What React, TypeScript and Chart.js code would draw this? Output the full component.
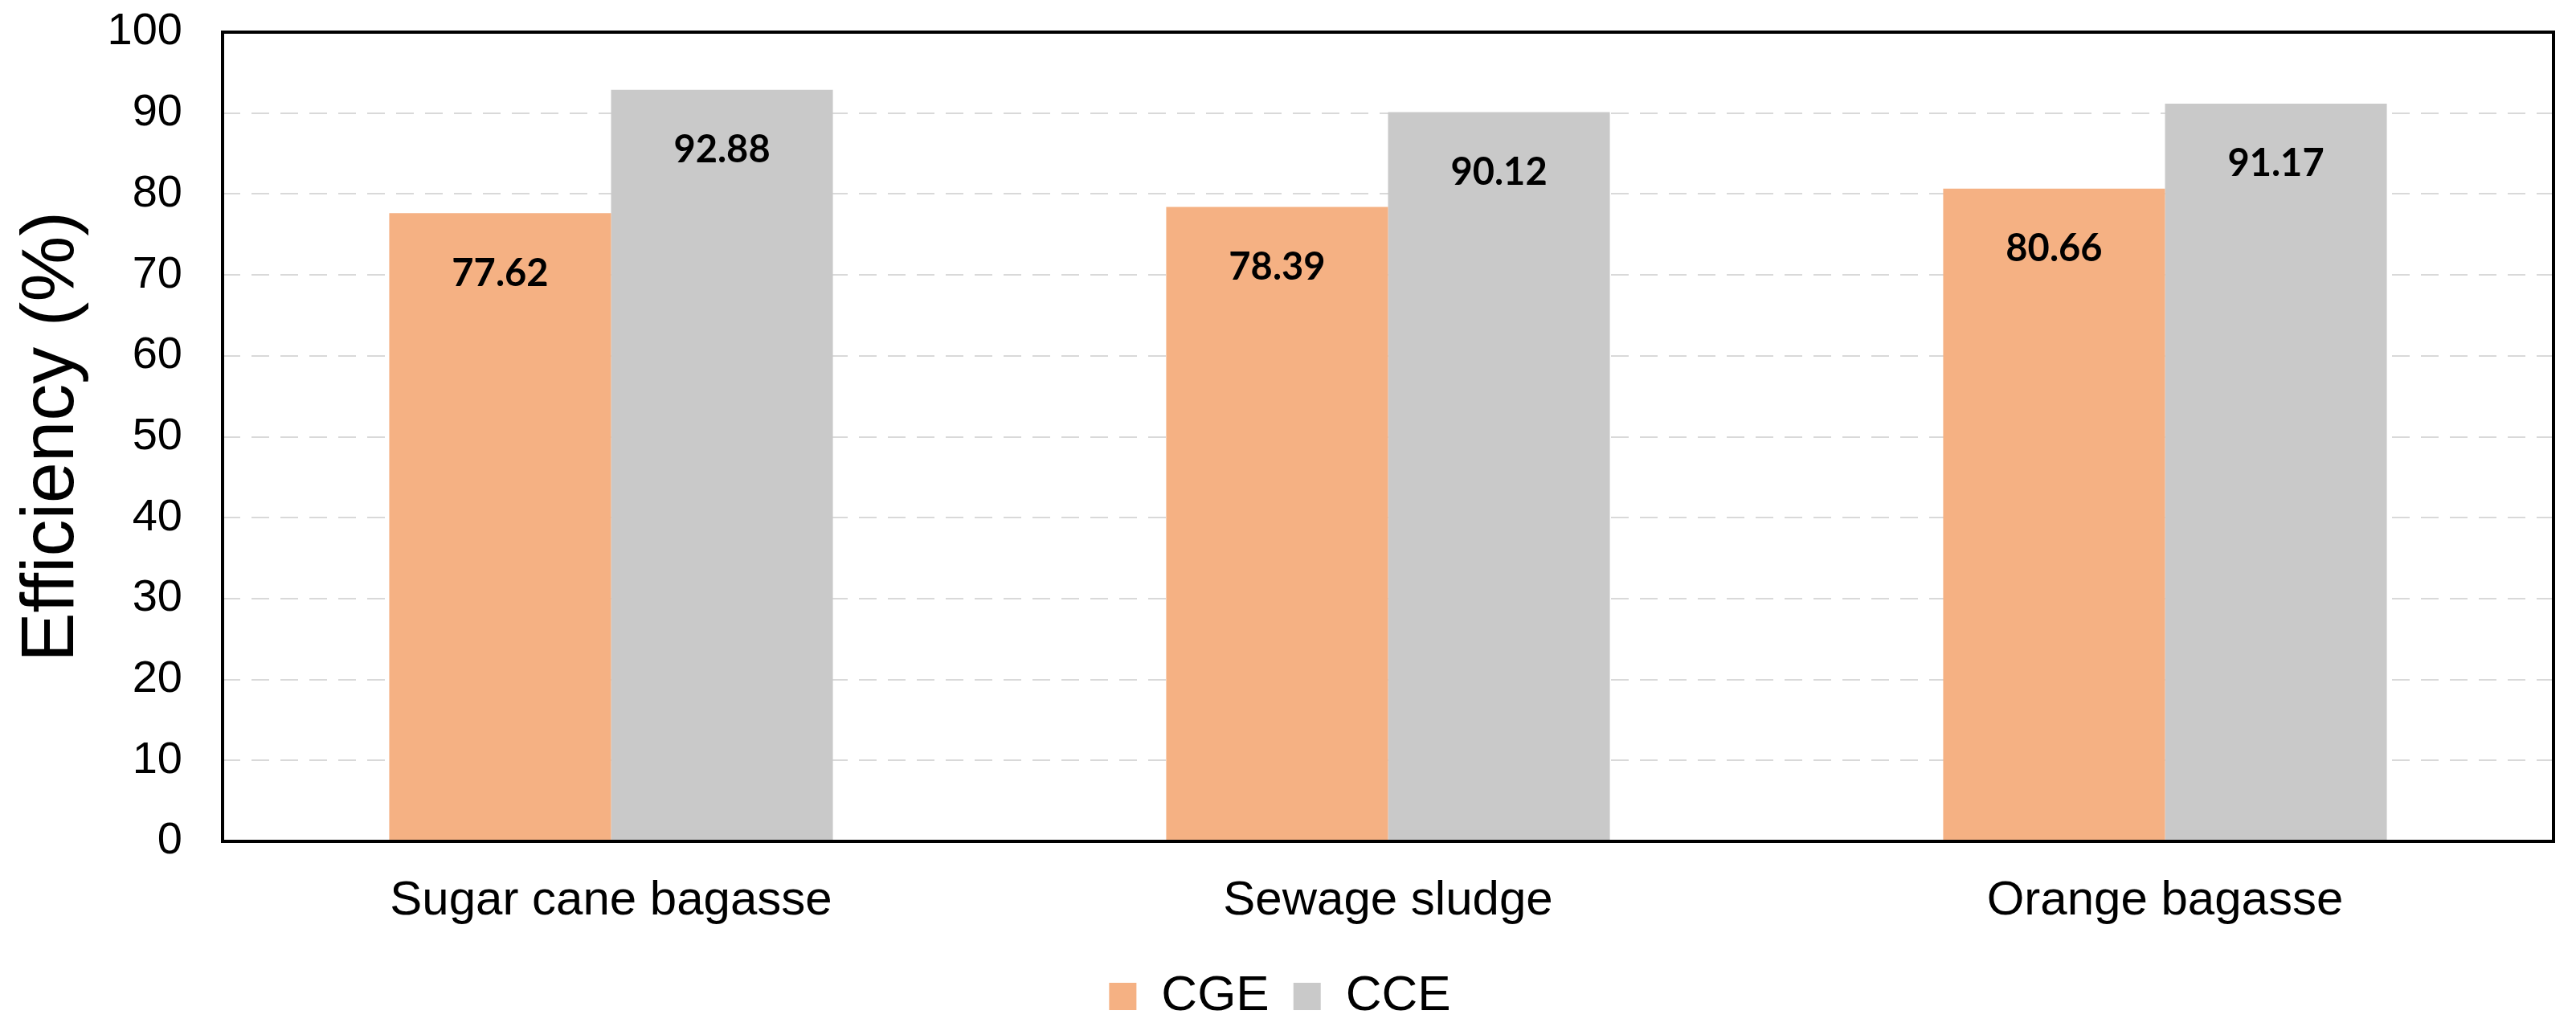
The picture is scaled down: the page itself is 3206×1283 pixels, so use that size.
import React, { useEffect, useRef } from "react";
import { Chart, registerables } from "chart.js";

Chart.register(...registerables);

const categories = ["Sugar cane bagasse", "Sewage sludge", "Orange bagasse"];
const cgeValues = [77.62, 78.39, 80.66];
const cceValues = [92.88, 90.12, 91.17];
const seriesNames = ["CGE", "CCE"];
const seriesColors = ["#F5B183", "#C9C9C9"];
const yAxisTitle = "Efficiency (%)";
const yMin = 0;
const yMax = 100;
const yStep = 10;

const FONT = "'Liberation Sans', Arial, Helvetica, sans-serif";

const valueLabels = {
  id: "valueLabels",
  afterDatasetsDraw(chart: any) {
    const ctx = chart.ctx;
    ctx.save();
    ctx.font = "bold 47px Lato, 'Liberation Sans', sans-serif";
    ctx.fillStyle = "#000";
    ctx.textAlign = "center";
    ctx.textBaseline = "middle";
    chart.data.datasets.forEach((ds: any, i: number) => {
      const meta = chart.getDatasetMeta(i);
      meta.data.forEach((el: any, j: number) => {
        const v = ds.data[j] as number;
        ctx.fillText(v.toFixed(2), el.x, el.y + 75);
      });
    });
    ctx.restore();
  },
};

const frame = {
  id: "frame",
  afterDatasetsDraw(chart: any) {
    const { left, top, right, bottom } = chart.chartArea;
    const ctx = chart.ctx;
    ctx.save();
    ctx.strokeStyle = "#000";
    ctx.lineWidth = 4;
    ctx.strokeRect(left, top, right - left, bottom - top);
    ctx.restore();
  },
};

export default function App() {
  const ref = useRef<HTMLCanvasElement | null>(null);

  useEffect(() => {
    if (!ref.current) return;
    const chart = new Chart(ref.current, {
      type: "bar",
      data: {
        labels: categories,
        datasets: [
          {
            label: seriesNames[0],
            data: cgeValues,
            backgroundColor: seriesColors[0],
            borderWidth: 0,
            categoryPercentage: 0.571,
            barPercentage: 1.0,
          },
          {
            label: seriesNames[1],
            data: cceValues,
            backgroundColor: seriesColors[1],
            borderWidth: 0,
            categoryPercentage: 0.571,
            barPercentage: 1.0,
          },
        ],
      },
      options: {
        responsive: false,
        animation: false,
        events: [],
        layout: { padding: { top: 32, right: 20, bottom: 0, left: 0 } },
        plugins: {
          tooltip: { enabled: false },
          title: { display: false },
          legend: {
            display: true,
            position: "bottom",
            maxHeight: 96,
            labels: {
              boxWidth: 34,
              boxHeight: 34,
              padding: 30,
              color: "#000",
              font: { family: FONT, size: 62 },
            },
          },
        },
        scales: {
          x: {
            grid: { display: false, drawTicks: false },
            border: { display: false },
            ticks: {
              color: "#000",
              padding: 38,
              font: { family: FONT, size: 60, lineHeight: 1.2 },
            },
            afterFit: (scale: any) => {
              scale.height = 132;
            },
          },
          y: {
            min: yMin,
            max: yMax,
            ticks: {
              stepSize: yStep,
              color: "#000",
              padding: 0,
              font: { family: FONT, size: 56, lineHeight: 1.1 },
            },
            grid: {
              color: "#D9D9D9",
              lineWidth: 2,
              drawTicks: true,
              tickLength: 50,
              tickColor: "rgba(0,0,0,0)",
            },
            border: { display: false, dash: [22, 14] },
            title: {
              display: true,
              text: yAxisTitle,
              color: "#000",
              padding: { top: 2, bottom: 0 },
              font: { family: FONT, size: 92, lineHeight: 1.2 },
            },
            afterFit: (scale: any) => {
              scale.width = 269;
            },
          },
        },
      },
      plugins: [valueLabels, frame],
    } as any);
    return () => chart.destroy();
  }, []);

  return (
    <div style={{ width: 3190, height: 1267 }}>
      <canvas ref={ref} width={3190} height={1267} style={{ display: "block" }} />
    </div>
  );
}
